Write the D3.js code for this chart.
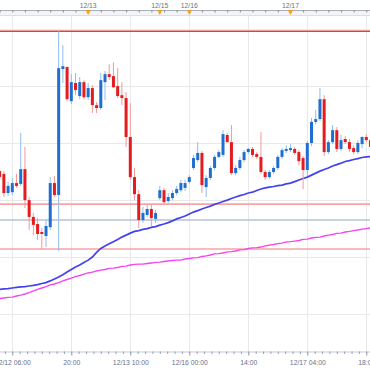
<!DOCTYPE html>
<html><head><meta charset="utf-8">
<script src="https://cdn.jsdelivr.net/npm/d3@7"></script>
<style>html,body{margin:0;padding:0;background:#fff;overflow:hidden}svg{display:block;font-family:"Liberation Sans",Arial,sans-serif}</style>
</head><body><svg id="c" width="370" height="370"></svg>
<script>
// candle index of the first value in each array (index 0 = 12/12 06:00)
const firstIndex = -3;
const open  = [109.201,109.191,109.124,109.127,109.159,109.156,109.208,109.099,109.040,109.015,108.987,108.973,109.004,109.159,109.117,109.560,109.567,109.447,109.511,109.465,109.514,109.461,109.493,109.433,109.423,109.514,109.542,109.535,109.500,109.468,109.458,109.321,109.180,109.120,109.029,109.047,109.068,109.033,109.106,109.134,109.096,109.106,109.124,109.134,109.142,109.163,109.212,109.240,109.265,109.145,109.177,109.212,109.251,109.258,109.328,109.303,109.194,109.212,109.240,109.268,109.279,109.261,109.251,109.198,109.180,109.198,109.212,109.251,109.272,109.275,109.279,109.268,109.247,109.205,109.300,109.374,109.384,109.454,109.268,109.303,109.345,109.279,109.314,109.303,109.282,109.268,109.296,109.321,109.310];
const high  = [109.212,109.201,109.163,109.177,109.191,109.335,109.286,109.110,109.054,109.036,109.001,109.029,109.180,109.184,109.693,109.644,109.570,109.542,109.546,109.532,109.521,109.511,109.504,109.444,109.546,109.553,109.577,109.584,109.563,109.514,109.479,109.440,109.212,109.134,109.075,109.082,109.082,109.064,109.149,109.142,109.124,109.134,109.149,109.170,109.170,109.187,109.258,109.303,109.272,109.187,109.219,109.258,109.275,109.345,109.335,109.363,109.222,109.251,109.275,109.282,109.286,109.268,109.338,109.205,109.205,109.219,109.258,109.282,109.292,109.296,109.286,109.275,109.254,109.307,109.388,109.416,109.493,109.468,109.310,109.363,109.356,109.328,109.324,109.314,109.292,109.310,109.324,109.331,109.324];
const low   = [109.170,109.110,109.113,109.117,109.142,109.149,109.071,108.994,108.976,108.959,108.927,108.934,108.994,109.110,108.920,109.511,109.447,109.437,109.468,109.454,109.454,109.451,109.405,109.405,109.416,109.451,109.521,109.493,109.458,109.433,109.286,109.170,109.099,109.001,109.019,109.040,109.008,109.019,109.099,109.082,109.089,109.099,109.117,109.127,109.131,109.156,109.205,109.233,109.124,109.110,109.170,109.205,109.247,109.251,109.300,109.187,109.187,109.205,109.233,109.261,109.251,109.244,109.191,109.170,109.173,109.191,109.205,109.244,109.265,109.268,109.258,109.222,109.138,109.184,109.289,109.366,109.377,109.254,109.261,109.296,109.268,109.272,109.296,109.268,109.261,109.261,109.282,109.303,109.275];
const close = [109.180,109.124,109.149,109.159,109.149,109.208,109.099,109.040,109.012,108.980,108.980,109.008,109.159,109.117,109.563,109.570,109.454,109.514,109.486,109.514,109.461,109.493,109.433,109.423,109.521,109.542,109.532,109.496,109.465,109.458,109.321,109.180,109.120,109.029,109.054,109.068,109.036,109.054,109.134,109.092,109.110,109.124,109.138,109.159,109.159,109.180,109.247,109.265,109.152,109.177,109.212,109.251,109.268,109.331,109.303,109.194,109.212,109.240,109.268,109.279,109.258,109.251,109.198,109.180,109.198,109.212,109.251,109.275,109.279,109.282,109.265,109.236,109.205,109.300,109.374,109.384,109.454,109.268,109.303,109.345,109.279,109.310,109.303,109.279,109.268,109.300,109.321,109.310,109.286];
// moving averages
const maShort = [108.785,108.787,108.788,108.790,108.792,108.794,108.795,108.797,108.799,108.802,108.806,108.809,108.815,108.822,108.829,108.837,108.846,108.855,108.864,108.871,108.880,108.888,108.899,108.915,108.929,108.938,108.946,108.953,108.961,108.969,108.976,108.983,108.989,108.992,108.996,108.999,109.003,109.006,109.011,109.015,109.020,109.026,109.033,109.038,109.043,109.050,109.057,109.062,109.068,109.073,109.078,109.084,109.089,109.094,109.099,109.105,109.110,109.115,109.119,109.124,109.127,109.133,109.138,109.142,109.145,109.147,109.150,109.152,109.156,109.159,109.164,109.170,109.175,109.180,109.187,109.194,109.201,109.207,109.212,109.219,109.224,109.229,109.235,109.238,109.242,109.245,109.249,109.251,109.252];
const maLong  = [108.753,108.755,108.757,108.758,108.762,108.765,108.769,108.774,108.780,108.785,108.790,108.795,108.801,108.804,108.809,108.815,108.820,108.825,108.830,108.834,108.839,108.843,108.846,108.850,108.853,108.855,108.859,108.860,108.862,108.866,108.867,108.871,108.873,108.874,108.874,108.876,108.878,108.880,108.881,108.883,108.885,108.887,108.888,108.888,108.892,108.894,108.896,108.897,108.901,108.903,108.906,108.910,108.911,108.913,108.917,108.918,108.920,108.924,108.925,108.929,108.931,108.932,108.934,108.938,108.941,108.943,108.946,108.948,108.952,108.953,108.955,108.957,108.961,108.962,108.966,108.968,108.969,108.973,108.976,108.978,108.982,108.983,108.987,108.989,108.992,108.994,108.997,108.999,109.001];
// horizontal levels
const levelTop = 109.693;
const levelsPink = [109.085, 108.927];
const levelGray = 109.029;
const gridPrices = [109.7,109.5,109.3,109.1,108.9,108.7];
// axes
const bottomTickIdx = [0,14,28,42,56,70,84];
const bottomTickLabels = ["12/12 06:00","20:00","12/13 10:00","12/16 00:00","14:00","12/17 04:00","18:00"];
const dayMarkIdx = [18,35,42,66];
const dayMarkLabels = ["12/13","12/15","12/16","12/17"];

const svg = d3.select("#c");
const W = 370, plotTop = 16, plotBottom = 351.5;
const x = d3.scaleLinear().domain([0,84]).range([12.3,366.3]);
const y = d3.scaleLinear().domain([108.565,109.75]).range([352,15]);

const candles = open.map((o,i)=>({i:firstIndex+i,o,h:high[i],l:low[i],c:close[i]}));

// grid
const g = svg.append("g");
g.selectAll(".vg").data(bottomTickIdx).join("line")
  .attr("x1",d=>Math.round(x(d))+0.5).attr("x2",d=>Math.round(x(d))+0.5)
  .attr("y1",plotTop).attr("y2",plotBottom).attr("stroke","#e9e9ec").attr("stroke-width",1);
g.selectAll(".hg").data(gridPrices).join("line")
  .attr("x1",0).attr("x2",W).attr("y1",d=>Math.round(y(d))+0.5).attr("y2",d=>Math.round(y(d))+0.5)
  .attr("stroke","#e9e9ec").attr("stroke-width",1);

// levels
svg.append("line").attr("x1",0).attr("x2",W).attr("y1",y(levelTop)).attr("y2",y(levelTop))
  .attr("stroke","#e93b3b").attr("stroke-width",1.6);
svg.selectAll(".pl").data(levelsPink).join("line").attr("x1",0).attr("x2",W)
  .attr("y1",d=>y(d)).attr("y2",d=>y(d)).attr("stroke","#f6a3a3").attr("stroke-width",1.6);
svg.append("line").attr("x1",0).attr("x2",W).attr("y1",y(levelGray)).attr("y2",y(levelGray))
  .attr("stroke","#b9c0d6").attr("stroke-width",1.6);

// moving averages
const line = arr => d3.line().x((d,i)=>x(firstIndex+i)).y(d=>y(d))(arr);
svg.append("path").attr("d",line(maLong)).attr("fill","none").attr("stroke","#f545f0").attr("stroke-width",1.4);
svg.append("path").attr("d",line(maShort)).attr("fill","none").attr("stroke","#4343ee").attr("stroke-width",1.7);

// candles
const cg = svg.append("g");
cg.selectAll(".wick").data(candles).join("line")
  .attr("x1",d=>x(d.i)).attr("x2",d=>x(d.i)).attr("y1",d=>y(d.h)).attr("y2",d=>y(d.l))
  .attr("stroke",d=>d.c>=d.o?"#8fbdec":"#f29a9a").attr("stroke-width",1);
cg.selectAll(".body").data(candles).join("rect")
  .attr("x",d=>x(d.i)-1.5).attr("width",3)
  .attr("y",d=>y(Math.max(d.o,d.c))).attr("height",d=>Math.max(1.2,Math.abs(y(d.o)-y(d.c))))
  .attr("fill",d=>d.c>=d.o?"#1f6fd1":"#e51c1f");

// bottom axis
const minorIdx = [];
for (let k=0;k<bottomTickIdx.length-1;k++){const a=bottomTickIdx[k],b=bottomTickIdx[k+1];for(let j=1;j<8;j++)minorIdx.push(a+(b-a)*j/8);}
minorIdx.push(-1.75);
const bAxis = svg.append("g").attr("transform",`translate(0,${plotBottom})`)
  .call(d3.axisBottom(x).tickValues(bottomTickIdx).tickFormat((d,i)=>bottomTickLabels[i]).tickSize(4).tickSizeOuter(0).tickPadding(5));
bAxis.select(".domain").attr("stroke","#c4cad8").attr("d","M0,0.5H370");
bAxis.selectAll(".tick line").attr("stroke","#8a90a0");
bAxis.selectAll("text").attr("fill","#69728a").attr("font-size","6.8px").attr("font-family","Liberation Sans, Arial, sans-serif");
const mAxis = svg.append("g").attr("transform",`translate(0,${plotBottom})`)
  .call(d3.axisBottom(x).tickValues(minorIdx).tickFormat("").tickSize(2.5).tickSizeOuter(0));
mAxis.select(".domain").remove();
mAxis.selectAll(".tick line").attr("stroke","#9aa0ae");

// top axis
svg.append("rect").attr("x",0).attr("y",10).attr("width",W).attr("height",6).attr("fill","#f4f4f6");
svg.append("line").attr("x1",0).attr("x2",W).attr("y1",15.5).attr("y2",15.5).attr("stroke","#dcdfe6");
const topIdx = d3.range(-3,87,3);
const tAxis = svg.append("g").attr("transform","translate(0,10)")
  .call(d3.axisBottom(x).tickValues(topIdx).tickFormat("").tickSize(2.5).tickSizeOuter(0));
tAxis.select(".domain").attr("stroke","#a9aebb").attr("d","M0,0.5H370");
tAxis.selectAll(".tick line").attr("stroke","#8a90a0");
svg.selectAll(".dl").data(dayMarkIdx).join("text")
  .attr("x",d=>x(d)).attr("y",7.5).attr("text-anchor","middle")
  .attr("font-size","6.8px").attr("fill","#69728a").text((d,i)=>dayMarkLabels[i]);
svg.selectAll(".tri").data(dayMarkIdx).join("path")
  .attr("d",d=>{const cx=x(d);return `M${cx-2.6},10 L${cx+2.6},10 L${cx},15 Z`;})
  .attr("fill","#f3a21f");
</script></body></html>
